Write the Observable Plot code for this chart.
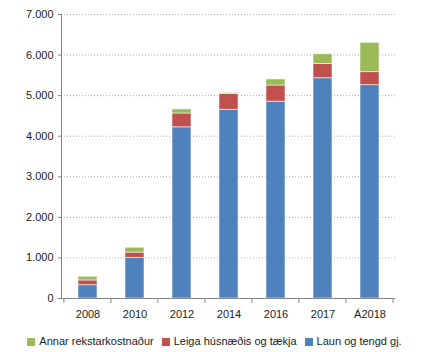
<!DOCTYPE html>
<html><head><meta charset="utf-8">
<script src="https://cdn.jsdelivr.net/npm/d3@7"></script>
<script src="https://cdn.jsdelivr.net/npm/@observablehq/plot@0.6"></script>
<style>
body{margin:0;background:#fff;font-family:"Liberation Sans",Arial,sans-serif;}
#legend{display:flex;justify-content:center;align-items:center;gap:8px;font-size:11px;color:#222;height:27px;padding-left:6px;padding-top:5px;box-sizing:border-box;}
#legend span.sw{display:inline-block;width:8px;height:8px;margin-right:4px;vertical-align:middle;}
#legend .it{white-space:nowrap;}
</style></head><body>
<div id="chart"></div>
<div id="legend"></div>
<script>
const years = ["2008","2010","2012","2014","2016","2017","Á2018"];
const laun  = [330, 1000, 4220, 4650, 4850, 5430, 5260];
const leiga = [115,  130,  340,  390,  400,  350,  320];
const annar = [ 90,  120,  100,   25,  150,  240,  720];
const seriesNames = ["Laun og tengd gj.", "Leiga húsnæðis og tækja", "Annar rekstarkostnaður"];
const seriesColors = ["#4F81BD", "#C0504D", "#9BBB59"];
const yTicks = [0,1000,2000,3000,4000,5000,6000,7000];

const seriesValues = [laun, leiga, annar];
const rows = [];
seriesNames.forEach((s, si) => years.forEach((y, i) => rows.push({year: y, series: s, value: seriesValues[si][i]})));

const fmt = d => d3.format(",")(d).replace(/,/g, ".");

const plot = Plot.plot({
  width: 423, height: 325,
  marginTop: 14, marginBottom: 27, marginLeft: 61, marginRight: 28,
  style: {fontFamily: '"Liberation Sans", Arial, sans-serif', fontSize: "11px", color: "#222"},
  x: {domain: years, paddingInner: 0.6, paddingOuter: 0.3, label: null},
  y: {domain: [0, 7000], label: null},
  color: {domain: seriesNames, range: seriesColors},
  marks: [
    Plot.gridY(yTicks.filter(d => d > 0), {stroke: "#999", strokeOpacity: 0.8, strokeDasharray: "1,2"}),
    Plot.barY(rows, Plot.stackY({order: seriesNames, x: "year", y: "value", fill: "series", stroke: "white", strokeOpacity: 0.55, strokeWidth: 1})),
    Plot.frame({anchor: "left", stroke: "#868686"}),
    Plot.ruleY([0], {stroke: "#868686"}),
    Plot.axisY(yTicks, {tickFormat: fmt, tickSize: 3, tickPadding: 5, stroke: "#868686", fill: "#222", fontSize: 11}),
    Plot.axisX({tickSize: 0, tickPadding: 12, fill: "#222", fontSize: 11})
  ]
});
document.getElementById("chart").appendChild(plot);

// band-boundary tick marks on x axis, from the library's x scale
const xs = plot.scale("x"), ys = plot.scale("y");
const y0 = ys.apply(0);
const off = xs.step * 0.3;
const bounds = years.map(y => xs.apply(y) - off);
bounds.push(xs.apply(years[years.length - 1]) + xs.bandwidth + off);
d3.select(plot).append("g").selectAll("line").data(bounds).join("line")
  .attr("x1", d => d).attr("x2", d => d).attr("y1", y0).attr("y2", y0 + 5)
  .attr("stroke", "#868686");

// legend (order as in reference)
const lg = d3.select("#legend");
[2, 1, 0].forEach(i => {
  const it = lg.append("span").attr("class", "it");
  it.append("span").attr("class", "sw").style("background", seriesColors[i]);
  it.append("span").text(seriesNames[i]);
});
</script>
</body></html>
